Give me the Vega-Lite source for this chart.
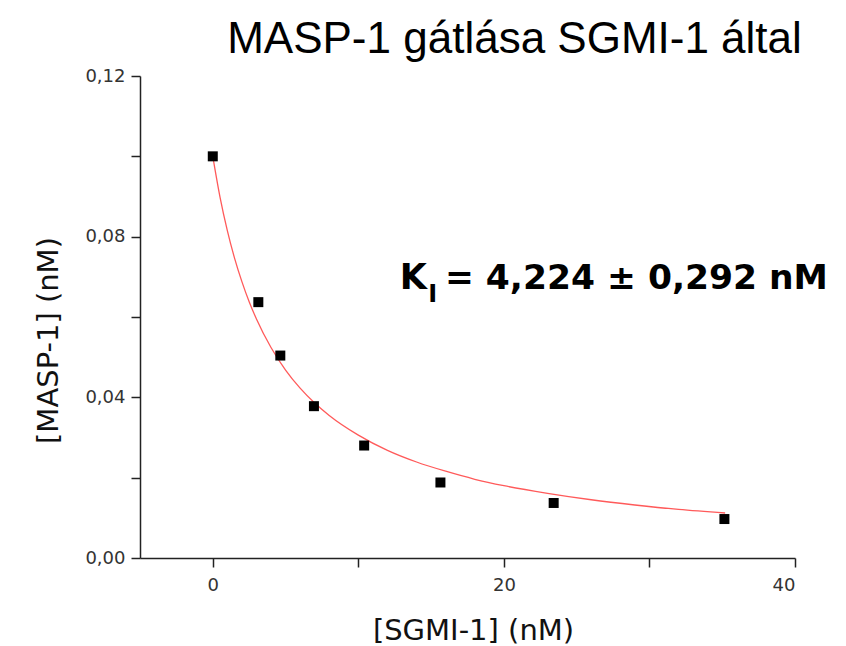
{
  "$schema": "https://vega.github.io/schema/vega-lite/v6.json",
  "width": 655,
  "height": 482,
  "autosize": {"type": "none"},
  "padding": {"left": 140, "top": 76, "right": 51, "bottom": 88},
  "background": "white",
  "title": {
    "text": "MASP-1 gátlása SGMI-1 által",
    "font": "Liberation Sans",
    "fontSize": 44,
    "fontWeight": "normal",
    "color": "black",
    "anchor": "middle",
    "dx": 47,
    "dy": 49,
    "baseline": "alphabetic",
    "offset": 19
  },
  "config": {
    "view": {"stroke": null},
    "axis": {
      "grid": false,
      "domainColor": "#222222",
      "domainWidth": 1.5,
      "tickColor": "#222222",
      "tickWidth": 1.5,
      "tickSize": 9,
      "labelFont": "DejaVu Sans",
      "labelColor": "#333333",
      "titleFont": "DejaVu Sans",
      "titleFontSize": 29,
      "titleFontWeight": "normal",
      "titleColor": "#111111"
    }
  },
  "datasets": {
    "points": [
      {"sgmi": 0, "masp": 0.1},
      {"sgmi": 3.13, "masp": 0.0637},
      {"sgmi": 4.64, "masp": 0.0504},
      {"sgmi": 6.95, "masp": 0.0378},
      {"sgmi": 10.4, "masp": 0.028},
      {"sgmi": 15.64, "masp": 0.0188},
      {"sgmi": 23.42, "masp": 0.0137},
      {"sgmi": 35.15, "masp": 0.0097}
    ],
    "curve": [
      {"sgmi": 0, "masp": 0.1},
      {"sgmi": 0.5, "masp": 0.0898},
      {"sgmi": 1, "masp": 0.0815},
      {"sgmi": 1.5, "masp": 0.0746},
      {"sgmi": 2, "masp": 0.0688},
      {"sgmi": 2.5, "masp": 0.0638},
      {"sgmi": 3, "masp": 0.0595},
      {"sgmi": 4, "masp": 0.0524},
      {"sgmi": 5, "masp": 0.0468},
      {"sgmi": 6, "masp": 0.0423},
      {"sgmi": 7, "masp": 0.0386},
      {"sgmi": 8, "masp": 0.0355},
      {"sgmi": 10, "masp": 0.0306},
      {"sgmi": 12, "masp": 0.0268},
      {"sgmi": 14, "masp": 0.0239},
      {"sgmi": 16, "masp": 0.0216},
      {"sgmi": 18, "masp": 0.0196},
      {"sgmi": 20, "masp": 0.018},
      {"sgmi": 23, "masp": 0.0161},
      {"sgmi": 26, "masp": 0.0145},
      {"sgmi": 29, "masp": 0.0132},
      {"sgmi": 32, "masp": 0.0121},
      {"sgmi": 35.2, "masp": 0.0112}
    ],
    "notes": [
      {"t": "K"}
    ],
    "sub": [
      {"t": "I"}
    ],
    "rest": [
      {"t": "= 4,224 ± 0,292 nM"}
    ]
  },
  "layer": [
    {
      "data": {"name": "curve"},
      "mark": {"type": "line", "color": "#ff5a5a", "strokeWidth": 1.3, "interpolate": "monotone"},
      "encoding": {
        "x": {
          "field": "sgmi",
          "type": "quantitative",
          "scale": {"domain": [-5, 40], "nice": false, "zero": false},
          "axis": {
            "title": "[SGMI-1] (nM)",
            "values": [0, 10, 20, 30, 40],
            "labelExpr": "datum.value % 20 == 0 ? datum.label : ''",
            "labelFontSize": 18,
            "labelPadding": 9,
            "titleX": 333,
            "titleY": 81,
            "titleBaseline": "alphabetic",
            "titleAlign": "center"
          }
        },
        "y": {
          "field": "masp",
          "type": "quantitative",
          "scale": {"domain": [0, 0.12], "nice": false},
          "axis": {
            "title": "[MASP-1] (nM)",
            "values": [0, 0.02, 0.04, 0.06, 0.08, 0.1, 0.12],
            "labelExpr": "(round(datum.value * 100) % 4 == 0) ? replace(format(datum.value, '.2f'), '.', ',') : ''",
            "labelFontSize": 18,
            "labelPadding": 6,
            "titleX": -92,
            "titleY": 264,
            "titleAngle": -90,
            "titleAlign": "center",
            "titleBaseline": "middle"
          }
        }
      }
    },
    {
      "data": {"name": "points"},
      "mark": {"type": "point", "shape": "square", "filled": true, "color": "black", "size": 100, "opacity": 1},
      "encoding": {
        "x": {"field": "sgmi", "type": "quantitative"},
        "y": {"field": "masp", "type": "quantitative"}
      }
    },
    {
      "data": {"name": "notes"},
      "mark": {"type": "text", "font": "DejaVu Sans", "fontWeight": "bold", "fontSize": 35, "align": "left", "baseline": "alphabetic", "color": "black"},
      "encoding": {
        "x": {"datum": 12.85},
        "y": {"datum": 0.067},
        "text": {"field": "t", "type": "nominal"}
      }
    },
    {
      "data": {"name": "sub"},
      "mark": {"type": "text", "font": "DejaVu Sans", "fontWeight": "bold", "fontSize": 24, "align": "left", "baseline": "alphabetic", "color": "black"},
      "encoding": {
        "x": {"datum": 14.8},
        "y": {"datum": 0.0637},
        "text": {"field": "t", "type": "nominal"}
      }
    },
    {
      "data": {"name": "rest"},
      "mark": {"type": "text", "font": "DejaVu Sans", "fontWeight": "bold", "fontSize": 34.5, "align": "left", "baseline": "alphabetic", "color": "black"},
      "encoding": {
        "x": {"datum": 15.95},
        "y": {"datum": 0.067},
        "text": {"field": "t", "type": "nominal"}
      }
    }
  ]
}
